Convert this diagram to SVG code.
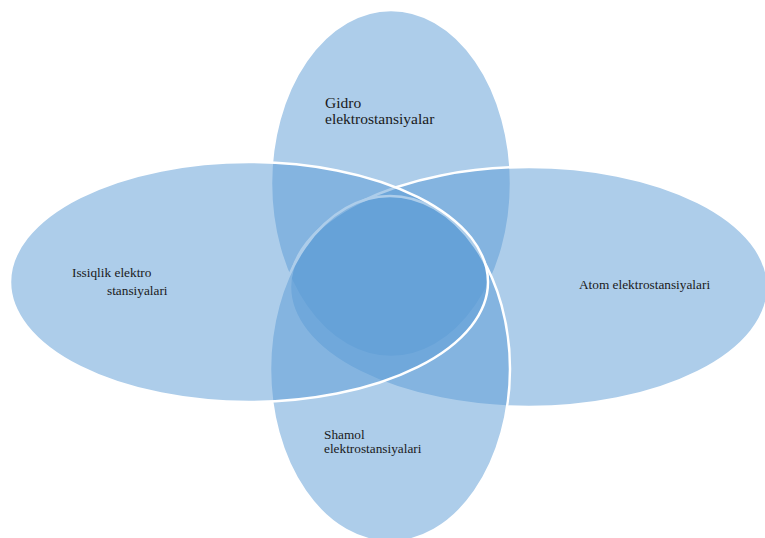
<svg xmlns="http://www.w3.org/2000/svg" width="765" height="538" viewBox="0 0 765 538">
<style>
.c{fill:#5B9BD5;fill-opacity:0.5;stroke:#FFFFFF;stroke-width:2.5}
.t{font-family:"Liberation Serif","Times New Roman",serif;fill:#1a1a1a}
</style>
<rect width="765" height="538" fill="#FFFFFF"/>
<g id="gidro"><ellipse class="c" cx="391" cy="183.5" rx="120" ry="173.5"/></g>
<g id="atom"><ellipse class="c" cx="529" cy="287" rx="239" ry="120"/></g>
<g id="shamol"><ellipse class="c" cx="390" cy="369" rx="120" ry="173"/></g>
<g id="issiqlik"><ellipse class="c" cx="249" cy="282" rx="239" ry="120"/></g>
<g id="labels">
<text class="t" font-size="15.5" x="325" y="108">Gidro</text>
<text class="t" font-size="15.5" x="325" y="124">elektrostansiyalar</text>
<text class="t" font-size="13.3" x="72" y="277">Issiqlik elektro</text>
<text class="t" font-size="13.3" x="107" y="295">stansiyalari</text>
<text class="t" font-size="13.3" x="579" y="289">Atom elektrostansiyalari</text>
<text class="t" font-size="13.3" x="324" y="439">Shamol</text>
<text class="t" font-size="13.3" x="324" y="453">elektrostansiyalari</text>
</g>
<g id="connectors"/>
</svg>
